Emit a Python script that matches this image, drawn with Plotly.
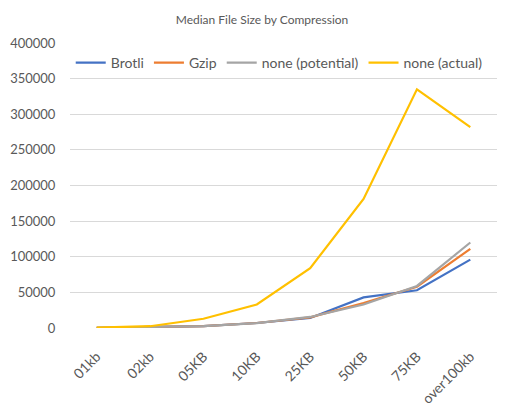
import plotly.graph_objects as go

# size buckets and median file size (bytes) per compression
buckets = ["01kb", "02kb", "05KB", "10KB", "25KB", "50KB", "75KB", "over100kb"]
brotli = [300, 1000, 2500, 7000, 14000, 43000, 53000, 96000]
gzip = [300, 1000, 2500, 7000, 15000, 35000, 58000, 111000]
none_potential = [300, 1000, 2700, 6800, 15500, 33000, 59000, 120000]
none_actual = [500, 2500, 13000, 33000, 84000, 181000, 335000, 282000]

series = [
    ("Brotli", brotli, "#4472C4"),
    ("Gzip", gzip, "#ED7D31"),
    ("none (potential)", none_potential, "#A5A5A5"),
    ("none (actual)", none_actual, "#FFC000"),
]

fig = go.Figure()
for name, vals, color in series:
    fig.add_trace(go.Scatter(
        x=buckets,
        y=vals,
        mode="lines",
        name=name,
        line=dict(color=color, width=2.2),
    ))

fig.update_layout(
    width=508,
    height=413,
    title=dict(text="Median File Size by Compression", x=0.5, xanchor="center",
               y=0.971, yanchor="middle", font=dict(size=12, color="#595959")),
    font=dict(family="Lato, sans-serif", size=14, color="#595959"),
    plot_bgcolor="white",
    paper_bgcolor="white",
    margin=dict(l=62, r=19, t=35, b=93),
    showlegend=True,
    legend=dict(orientation="h", x=0.49, xanchor="center", y=0.93, yanchor="middle",
                font=dict(size=14, color="#595959"), bgcolor="rgba(0,0,0,0)",
                itemwidth=30, tracegroupgap=0),
    xaxis=dict(showgrid=False, tickangle=-45, showline=False, ticks="outside",
               ticklen=14, tickcolor="white", range=[-0.5, 7.5], automargin=False,
               tickfont=dict(size=14, color="#595959")),
    yaxis=dict(range=[0, 400000], dtick=50000, showgrid=True, gridcolor="#D9D9D9",
               zeroline=False, ticks="outside", ticklen=11, tickcolor="white",
               tickformat="d", automargin=False,
               tickfont=dict(size=13, color="#595959")),
)

fig.write_html("out.html")
